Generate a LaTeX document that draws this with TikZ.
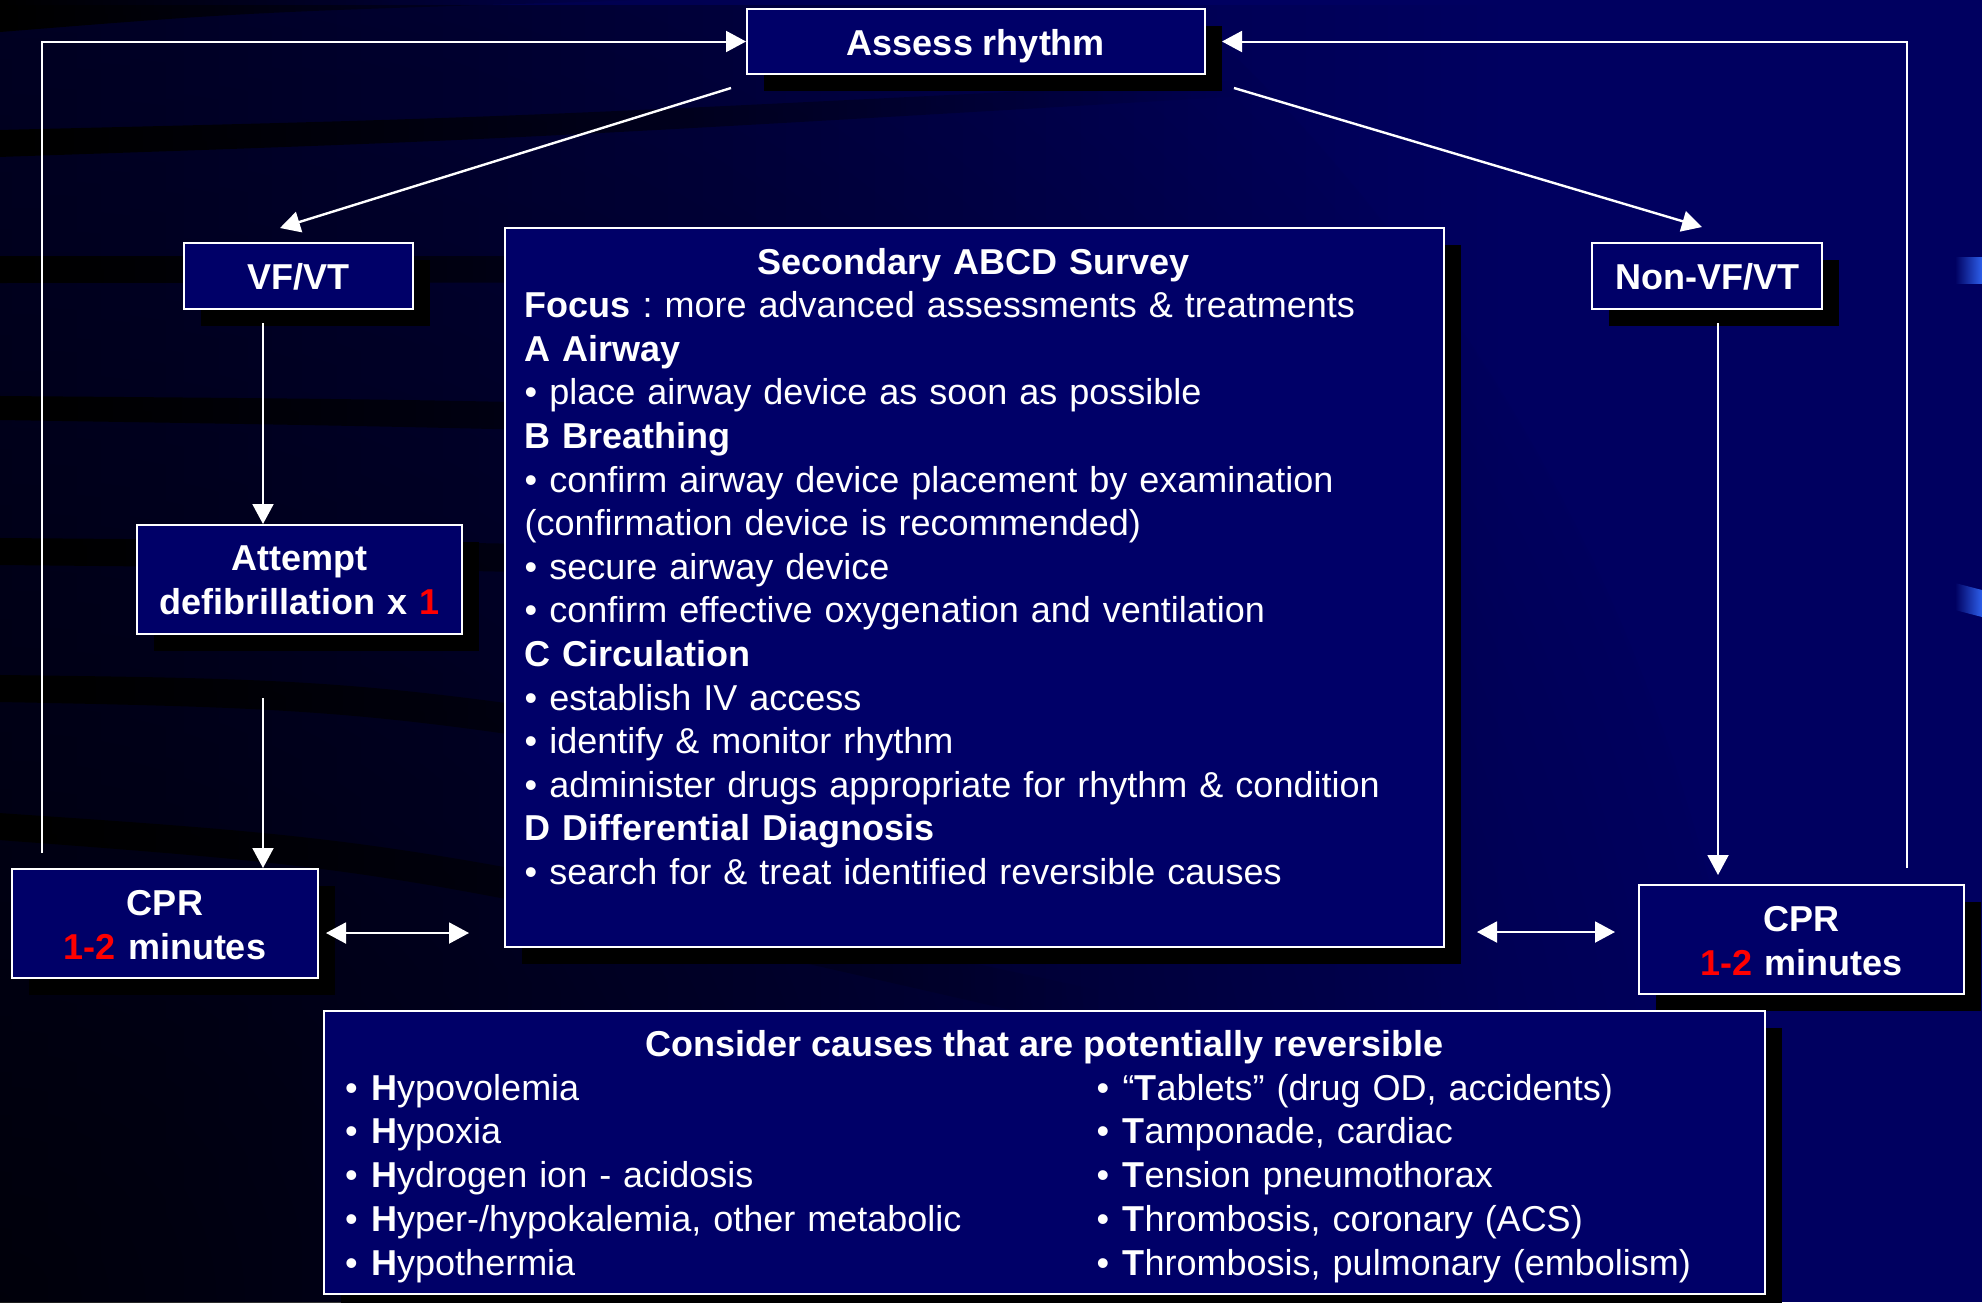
\documentclass[tikz,border=0pt]{standalone}
\usepackage{fontspec}
\setmainfont{Liberation Sans}
\usetikzlibrary{arrows.meta,calc,shadows,fadings}

\definecolor{bgnavy}{RGB}{0,0,96}
\definecolor{boxnavy}{RGB}{0,0,104}
\definecolor{edgeblue}{RGB}{45,95,235}
\definecolor{alertred}{RGB}{255,0,0}

% dark streaks fade out toward the right
\tikzfading[name=fadeeast, left color=transparent!0, middle color=transparent!30, right color=transparent!100]
\tikzfading[name=fadeglow, inner color=transparent!0, outer color=transparent!100]

\newcommand{\hl}[1]{\textcolor{alertred}{#1}}
\newcommand{\blt}{\makebox[26pt][l]{•}}
\frenchspacing

\begin{document}
\begin{tikzpicture}[x=1pt,y=-1pt,
  box/.style={draw=white, line width=2pt, fill=boxnavy, inner sep=0pt,
    drop shadow={shadow xshift=17pt, shadow yshift=-17pt, fill=black, opacity=1}},
  lbl/.style={text=white, inner sep=0pt, font=\fontsize{36}{44}\selectfont},
  lblB/.style={text=white, inner sep=0pt, font=\fontsize{36}{44}\selectfont\bfseries},
  conn/.style={draw=white, line width=2pt, -{Triangle[length=20pt,width=21pt]}},
  dconn/.style={draw=white, line width=2pt,
    {Triangle[length=20pt,width=21pt]}-{Triangle[length=20pt,width=21pt]}},
  band/.style={fill=black, path fading=fadeeast}
]
\useasboundingbox (0,0) rectangle (1982,1302);

% ---- backdrop ----
\fill[bgnavy] (0,0) rectangle (1982,1302);
\begin{scope}
  \clip (0,0) rectangle (1982,1302);
  \fill[black, path fading=fadeeast, fill opacity=0.55] (0,0) rectangle (1500,1302);
  \fill[black, path fading=fadeglow, fill opacity=0.75] (0,1302) circle[radius=1800pt];
  % curved dark streaks
  \fill[band] (0,0) -- (650,0) .. controls (250,12) .. (0,32) -- cycle;
  \fill[band] (0,130) .. controls (500,118) .. (1250,80) -- (1250,96)
              .. controls (500,140) .. (0,157) -- cycle;
  \fill[band] (0,256) -- (1100,256) -- (1100,282) -- (0,283) -- cycle;
  \fill[band] (0,396) .. controls (500,400) .. (1100,420) -- (1100,448)
              .. controls (500,428) .. (0,420) -- cycle;
  \fill[band] (0,538) .. controls (500,542) .. (1100,560) -- (1100,590)
              .. controls (500,570) .. (0,565) -- cycle;
  \fill[band] (0,675) .. controls (400,680) .. (1100,800) -- (1100,835)
              .. controls (400,710) .. (0,702) -- cycle;
  \fill[band] (0,813) .. controls (400,840) .. (1100,990) -- (1100,1030)
              .. controls (400,870) .. (0,840) -- cycle;
  % blue tabs on the right edge
  \shade[left color=bgnavy, right color=edgeblue] (1955,257) rectangle (1982,283);
  \shade[left color=bgnavy, right color=edgeblue]
    (1955,583) -- (1982,590) -- (1982,617) -- (1955,610) -- cycle;
\end{scope}

% ---- boxes ----
\node[box, minimum width=458pt, minimum height=64.4pt] (assess) at (976,41.5) {};
\node[lblB, anchor=base] (assessT) at (976,55) {Assess rhythm};

\node[box, minimum width=229pt, minimum height=66pt] (vf) at (298.5,276) {};
\node[lblB, anchor=base] (vfT) at (298.5,289) {VF/VT};

\node[box, minimum width=230pt, minimum height=66pt] (nonvf) at (1707,276) {};
\node[lblB, anchor=base] (nonvfT) at (1707,289) {Non-VF/VT};

\node[box, minimum width=325pt, minimum height=109pt] (defib) at (299.5,579.5) {};
\node[lblB, text width=320pt, align=center, anchor=base] (defibT) at (299.5,570)
  {Attempt\\defibrillation x \hl{1}};

\node[box, minimum width=306pt, minimum height=109pt] (cprL) at (165,923.5) {};
\node[lblB, text width=300pt, align=center, anchor=base] (cprLT) at (165,915)
  {CPR\\\hl{1-2} minutes};

\node[box, minimum width=325pt, minimum height=109pt] (cprR) at (1801.5,939.5) {};
\node[lblB, text width=320pt, align=center, anchor=base] (cprRT) at (1801.5,931)
  {CPR\\\hl{1-2} minutes};

\node[box, minimum width=939pt, minimum height=719pt] (survey) at (974.5,587.5) {};
\node[lbl, text width=897pt, align=left, anchor=base west,
      font=\fontsize{36}{43.6}\selectfont] (surveyT) at (524.5,274)
  {\hfill\textbf{Secondary ABCD Survey}\hfill\null\\
   \textbf{Focus} : more advanced assessments \& treatments\\
   \textbf{A Airway}\\
   • place airway device as soon as possible\\
   \textbf{B Breathing}\\
   • confirm airway device placement by examination\\
   (confirmation device is recommended)\\
   • secure airway device\\
   • confirm effective oxygenation and ventilation\\
   \textbf{C Circulation}\\
   • establish IV access\\
   • identify \& monitor rhythm\\
   • administer drugs appropriate for rhythm \& condition\\
   \textbf{D Differential Diagnosis}\\
   • search for \& treat identified reversible causes};

\node[box, minimum width=1441pt, minimum height=283pt] (causes) at (1044.5,1152.2) {};
\node[lblB, anchor=base] (causesT) at (1044.5,1056)
  {Consider causes that are potentially reversible};
\node[lbl, text width=700pt, align=left, anchor=base west,
      font=\fontsize{36}{43.75}\selectfont] (hlist) at (345,1100)
  {\blt\textbf{H}ypovolemia\\
   \blt\textbf{H}ypoxia\\
   \blt\textbf{H}ydrogen ion - acidosis\\
   \blt\textbf{H}yper-/hypokalemia, other metabolic\\
   \blt\textbf{H}ypothermia};
\node[lbl, text width=640pt, align=left, anchor=base west,
      font=\fontsize{36}{43.75}\selectfont] (tlist) at (1096.5,1100)
  {\blt“\textbf{T}ablets” (drug OD, accidents)\\
   \blt\textbf{T}amponade, cardiac\\
   \blt\textbf{T}ension pneumothorax\\
   \blt\textbf{T}hrombosis, coronary (ACS)\\
   \blt\textbf{T}hrombosis, pulmonary (embolism)};

% ---- connectors ----
\coordinate (loopL) at ($(cprL.north west)+(31,-15)$);
\draw[conn] (loopL) |- (assess.west);
\coordinate (loopR) at ($(cprR.north east)+(-58,-16)$);
\draw[conn, shorten >=16pt] (loopR) |- (assess.east);

\draw[conn, line width=2.4pt] ($(assess.south west)+(-15,13.3)$) -- ($(vf.north)+(-18.5,-14)$);
\draw[conn, line width=2.4pt] ($(assess.south east)+(28,13.3)$) -- ($(nonvf.north)+(-5,-15)$);

\coordinate (vfOut) at ($(vf.south)+(-35.5,13)$);
\draw[conn] (vfOut) -- (vfOut |- defib.north);
\coordinate (defibOut) at ($(defib.south)+(-36.5,63)$);
\draw[conn] (defibOut) -- (defibOut |- cprL.north);
\coordinate (nonOut) at ($(nonvf.south)+(11,13)$);
\draw[conn, shorten >=9pt] (nonOut) -- (nonOut |- cprR.north);

\draw[dconn] ($(cprL.east)+(7,9.5)$) -- ($(cprL.east -| survey.west)+(-35,9.5)$);
\draw[dconn] ($(cprR.west -| survey.east)+(32,-7.5)$) -- ($(cprR.west)+(-23,-7.5)$);
\end{tikzpicture}
\end{document}
